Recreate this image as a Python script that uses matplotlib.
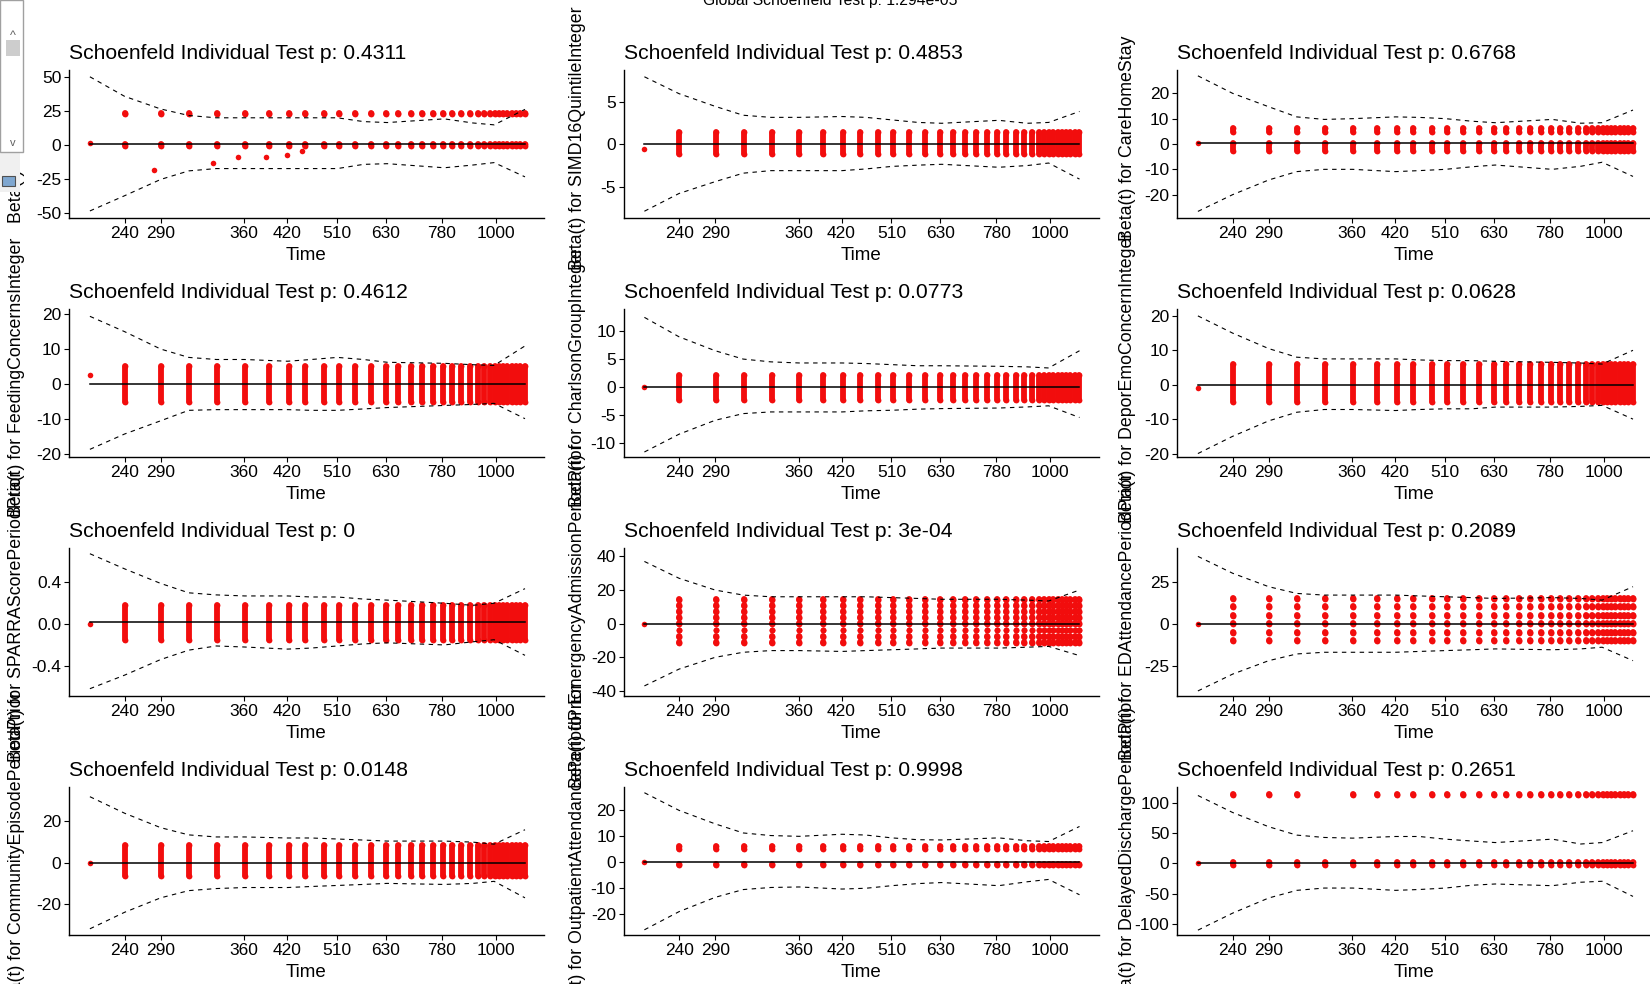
import matplotlib
matplotlib.use('Agg')
import matplotlib.pyplot as plt
from matplotlib.patches import Rectangle

plt.rcParams['font.family'] = ['Liberation Sans', 'DejaVu Sans']

# covariates, row by row (3 columns x 4 rows)
covariates = ['AgeInteger', 'SIMD16QuintileInteger', 'CareHomeStay',
              'FeedingConcernsInteger', 'CharlsonGroupInteger', 'DeporEmoConcernInteger',
              'SPARRAScorePeriodPrior', 'EmergencyAdmissionPeriodPrior', 'EDAttendancePeriodPrior',
              'CommunityEpisodePeriodPrior', 'OutpatientAttendancePeriodPrior', 'DelayedDischargePeriodPrior']
p_values = ['0.4311', '0.4853', '0.6768', '0.4612', '0.0773', '0.0628',
            '0', '3e-04', '0.2089', '0.0148', '0.9998', '0.2651']
global_p = '1.294e-05'

# transformed (rank) time axis, 0..100
tick_times = [240, 290, 360, 420, 510, 630, 780, 1000]
tick_rank = [11.7, 19.3, 36.9, 45.9, 56.4, 66.7, 78.5, 89.8]
event_rank = [4.4, 11.7, 19.4, 25.3, 31.2, 37.0, 42.1, 46.3, 49.7, 53.6, 56.8, 60.2,
              63.5, 66.7, 69.3, 71.9, 74.3, 76.6, 78.7, 80.6, 82.6, 84.4, 86.0, 87.4,
              88.6, 89.6, 90.5, 91.4, 92.3, 93.2, 94.1, 95.0, 95.9]

# confidence band (dashed) at these ranks
curve_rank = [4.4, 11.7, 19.3, 25.2, 31, 37, 46, 51, 56.5, 62, 67, 79, 85, 89.5, 96]
upper = [
    [50, 35.6, 26.3, 21.5, 19.8, 19.8, 19.8, 19.8, 19.8, 17, 16.3, 19, 16, 14.6, 26],
    [8.0, 6.0, 4.5, 3.45, 3.2, 3.2, 3.3, 3.2, 2.9, 2.6, 2.5, 2.85, 2.5, 2.6, 3.9],
    [26.9, 20, 14.7, 10.7, 9.7, 10, 10.7, 10.5, 10, 9, 8.4, 9.7, 8.2, 8.4, 13.4],
    [19.4, 15, 10, 7.6, 7, 7, 6.5, 7, 7.6, 7, 6.2, 5.9, 5.5, 5.3, 10.9],
    [12.5, 9, 6.5, 5, 4.5, 4.3, 4.3, 4.2, 4.0, 3.8, 3.8, 3.7, 3.6, 3.4, 6.5],
    [20, 15, 10.5, 8, 7.5, 7.5, 7.5, 7.2, 7, 7, 6.8, 6.5, 6.3, 6, 10],
    [0.675, 0.53, 0.39, 0.30, 0.28, 0.27, 0.27, 0.26, 0.26, 0.24, 0.23, 0.20, 0.18, 0.20, 0.34],
    [37, 27, 20, 17, 16, 16, 16, 16, 15.5, 15, 14.5, 14.5, 14, 13.5, 20],
    [40, 30, 22, 18, 17, 17, 17, 16.5, 16, 15.5, 15, 15.5, 15, 14, 22],
    [32, 24, 17, 13.5, 12.5, 12.5, 12, 12, 11.5, 11, 10.5, 10.5, 10, 9, 16],
    [26.8, 20, 14.8, 11.3, 10.3, 10, 10.8, 10.5, 9.4, 8.7, 8.6, 9.4, 8.3, 8, 13.8],
    [112, 84, 60.5, 46.7, 42.8, 41.7, 44.4, 44.4, 40, 37, 34.4, 40, 32, 34.4, 53.9],
]
lower = [
    [-48.8, -37.6, -25.6, -19.3, -17.6, -17.6, -17.6, -17.6, -17.6, -14.5, -14, -17, -15, -13.2, -23.7],
    [-7.9, -5.8, -4.4, -3.4, -3.1, -3.1, -3.1, -2.9, -2.6, -2.45, -2.35, -2.7, -2.5, -2.2, -4.1],
    [-26.6, -20, -14.2, -10.9, -10, -10, -10.9, -10.5, -10, -9, -8.3, -10, -8.8, -7.2, -12.8],
    [-18.8, -14.4, -10.6, -7.6, -7.4, -7.4, -7.4, -7.6, -7.6, -7.2, -6.8, -6.2, -5.9, -5.6, -10],
    [-11.7, -8.5, -6, -4.8, -4.5, -4.5, -4.5, -4.3, -4.2, -4.0, -3.9, -3.8, -3.6, -3.4, -5.5],
    [-20, -15, -10.5, -8, -7.2, -7.2, -7.5, -7.2, -7, -7, -6.5, -6.5, -6.3, -6, -10],
    [-0.62, -0.49, -0.34, -0.25, -0.21, -0.22, -0.24, -0.23, -0.21, -0.19, -0.18, -0.20, -0.17, -0.15, -0.30],
    [-37, -27, -20, -17, -16, -16, -16.5, -16, -15.5, -15, -14.5, -14.5, -14, -13.5, -19],
    [-40, -30, -22, -18, -17, -17, -17, -16.5, -16, -15.5, -15, -15.5, -15, -14, -22],
    [-32, -24, -17, -13.5, -12.5, -12, -12, -11.5, -11, -10.5, -10, -10.5, -10, -9, -17],
    [-26, -19, -13.5, -10.5, -9.7, -9.5, -10.3, -10, -9, -8.2, -7.8, -9, -7.5, -6.6, -12.5],
    [-110, -82, -57, -44.4, -40.6, -40.6, -44.4, -43, -40.6, -36, -33.9, -36.7, -31, -29.4, -54.4],
]
beta_hat = [0.5, 0.1, 0.3, 0, 0, 0, 0.02, 0, 0, 0, 0.3, 0.5]

# residual clusters: first event is a single point, then (low, high) ranges of point centres per level
first_resid = [1, -0.5, 0.5, 2.5, 0, -1, 0, 0, 0, 0, 0, 0]
resid_levels = [
    [(-1.2, 0.8), (22.8, 23.4)],
    [(-1.1, 1.5)],
    [(-2.7, 0.4), (4.7, 6.3)],
    [(-5.3, 5.2)],
    [(-2.3, 2.1)],
    [(-5.1, 6.1)],
    [(-0.15, 0.18)],
    [(-11.5, -11), (-7.8, -7.4), (-4.0, -3.6), (-0.3, 0.3), (3.5, 3.9), (7.2, 7.6), (10.8, 11.2), (14.2, 14.6)],
    [(-10.5, -9.8), (-5.4, -4.8), (-0.3, 0.3), (4.8, 5.4), (9.8, 10.4), (14.8, 15.4)],
    [(-6.5, 8.5)],
    [(-1.0, -0.6), (5.3, 6.1)],
    [(-3.4, 1.8), (113.5, 115)],
]
# (level index, event index) pairs with no residuals
level_gaps = [[], [], [], [], [], [], [], [], [], [], [], [(1, 4)]]
# isolated residuals (rank, value)
extra_pts = [
    [(17.8, -18.8), (30.4, -13.4), (35.6, -9), (41.4, -9), (45.8, -7.3), (49.1, -4.6)],
    [], [], [], [], [], [], [], [], [], [], [],
]
y_lims = [(-54, 55), (-8.7, 8.8), (-29.2, 29.2), (-21, 21.5), (-12.6, 14), (-21, 22),
          (-0.69, 0.73), (-43, 45), (-43, 45), (-35, 36.7), (-28, 29), (-118, 126)]
y_ticks = [[-50, -25, 0, 25, 50], [-5, 0, 5], [-20, -10, 0, 10, 20],
           [-20, -10, 0, 10, 20], [-10, -5, 0, 5, 10], [-20, -10, 0, 10, 20],
           [-0.4, 0.0, 0.4], [-40, -20, 0, 20, 40], [-25, 0, 25],
           [-20, 0, 20], [-20, -10, 0, 10, 20], [-100, -50, 0, 50, 100]]
y_ticklabels = [None, None, None, None, None, None,
                ['-0.4', '0.0', '0.4'], None, None, None, None, None]

W, H = 1650, 984
fig = plt.figure(figsize=(W / 100, H / 100), dpi=100)
col_left = [69, 623.5, 1177]
row_top = [70, 309, 548, 787]
ax_w, ax_h = 475, 148
label_x = [17, 577, 1127]
red = '#f20d0d'
dot = 4.2  # point diameter in pt

for i in range(12):
    r, c = divmod(i, 3)
    ax = fig.add_axes([col_left[c] / W, 1 - (row_top[r] + ax_h) / H, ax_w / W, ax_h / H])
    lo, hi = y_lims[i]
    # residual stripes
    for li, (a, b) in enumerate(resid_levels[i]):
        xs = [x for k, x in enumerate(event_rank[1:], start=1) if (li, k) not in level_gaps[i]]
        ax.vlines(xs, a, b, colors=red, linewidth=dot, capstyle='round', zorder=2)
        ax.scatter(xs, [a] * len(xs), s=dot ** 2, color=red, linewidths=0, zorder=2)
        ax.scatter(xs, [b] * len(xs), s=dot ** 2, color=red, linewidths=0, zorder=2)
    ax.plot([event_rank[0]], [first_resid[i]], 'o', color=red, ms=4, mec='none', zorder=2)
    for x, y in extra_pts[i]:
        ax.plot([x], [y], 'o', color=red, ms=4, mec='none', zorder=2)
    ax.plot([event_rank[0], event_rank[-1]], [beta_hat[i], beta_hat[i]], color='black', lw=1.1, zorder=3)
    ax.plot(curve_rank, upper[i], color='black', lw=0.8, ls=(0, (4, 4)), zorder=3)
    ax.plot(curve_rank, lower[i], color='black', lw=0.8, ls=(0, (4, 4)), zorder=3)

    ax.set_xlim(0, 100)
    ax.set_ylim(lo, hi)
    ax.set_xticks(tick_rank)
    ax.set_xticklabels([str(t) for t in tick_times])
    ax.set_yticks(y_ticks[i])
    if y_ticklabels[i] is not None:
        ax.set_yticklabels(y_ticklabels[i])
    else:
        ax.set_yticklabels([str(t) for t in y_ticks[i]])
    for s in ['top', 'right']:
        ax.spines[s].set_visible(False)
    for s in ['left', 'bottom']:
        ax.spines[s].set_linewidth(1.0)
    ax.tick_params(length=3.5, width=0.8, labelsize=12.5, pad=2, colors='black')
    ax.set_xlabel('Time', fontsize=13.5, labelpad=4.5)
    ax.set_title('Schoenfeld Individual Test p: ' + p_values[i], loc='left', fontsize=15.2, pad=8)
    fig.text(label_x[c] / W, 1 - (row_top[r] + ax_h / 2 - 6) / H, 'Beta(t) for ' + covariates[i],
             rotation=90, ha='center', va='center', fontsize=12.8)

fig.text(830 / W, 1 - 5 / H, 'Global Schoenfeld Test p: ' + global_p,
         ha='center', va='baseline', fontsize=11.3)

# leftover window scrollbar from the screenshot
fig.patches.append(Rectangle((0, 1 - 192 / H), 20 / W, 40 / H, transform=fig.transFigure,
                             facecolor='#f0f0f0', edgecolor='none', zorder=5))
fig.patches.append(Rectangle((0, 1 - 152 / H), 23 / W, 152 / H, transform=fig.transFigure,
                             facecolor='white', edgecolor='#a0a0a0', lw=1, zorder=5))
fig.patches.append(Rectangle((6 / W, 1 - 56 / H), 14 / W, 16 / H, transform=fig.transFigure,
                             facecolor='#cdcdcd', edgecolor='none', zorder=6))
fig.text(13 / W, 1 - 36 / H, '^', ha='center', va='center', fontsize=9, color='#606060', zorder=7)
fig.text(13 / W, 1 - 143 / H, 'v', ha='center', va='center', fontsize=8, color='#606060', zorder=7)
fig.patches.append(Rectangle((2 / W, 1 - 186 / H), 13 / W, 10 / H, transform=fig.transFigure,
                             facecolor='#7fa7d0', edgecolor='#505050', lw=0.8, zorder=6))

fig.savefig('out.png', dpi=100, facecolor='white')
